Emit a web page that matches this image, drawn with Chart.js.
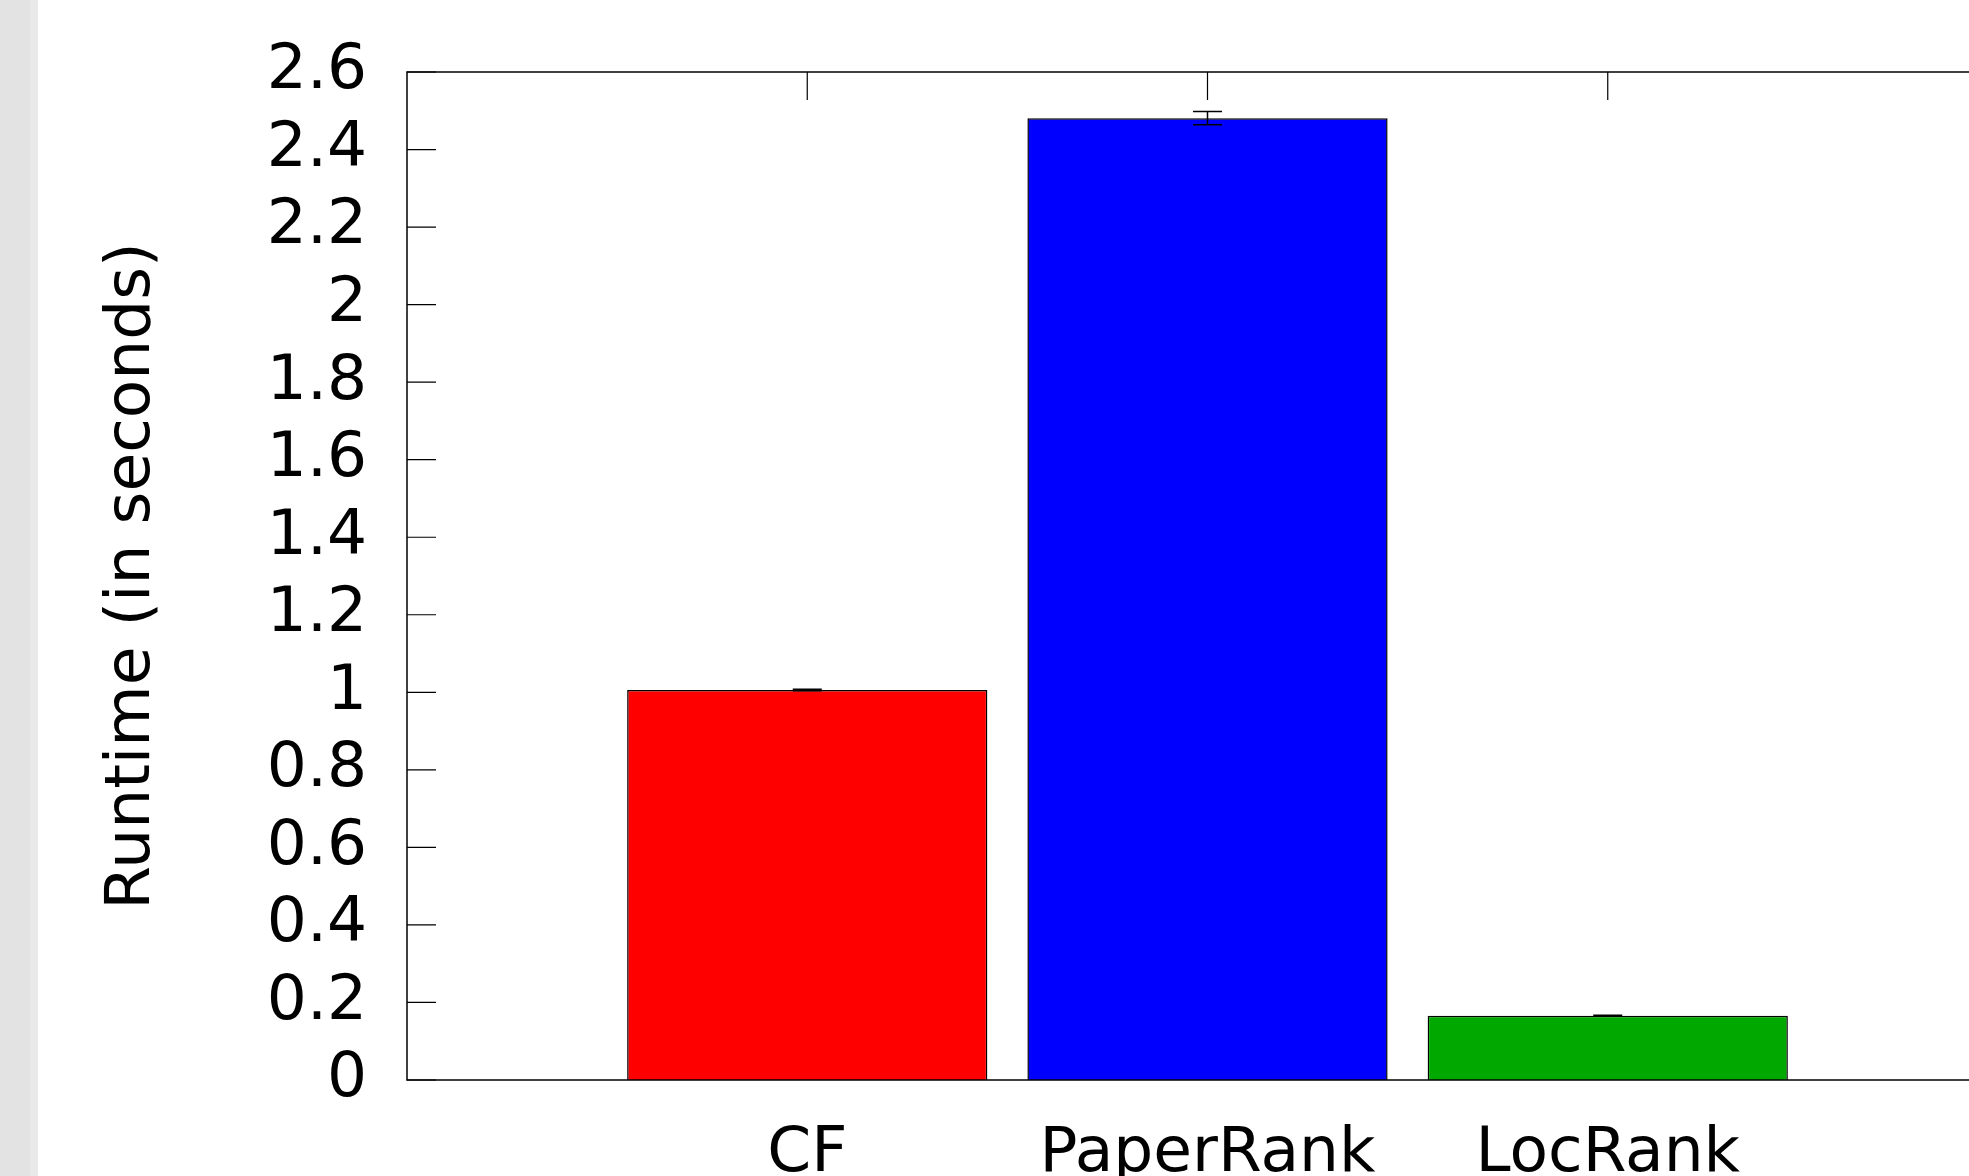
<!DOCTYPE html>
<html>
<head>
<meta charset="utf-8">
<script src="https://cdn.jsdelivr.net/npm/chart.js@4"></script>
<style>
  html, body { margin: 0; padding: 0; background: #fff; overflow: hidden; }
  body { width: 1969px; height: 1176px; position: relative; }
  #band { position: absolute; left: 0; top: 0; width: 30px; height: 1176px; background: #e3e3e3; border-right: 8px solid #e9e9e9; }
  #wrap { position: absolute; left: 0; top: 0; width: 2060px; height: 1200px; }
</style>
</head>
<body>
<div id="band"></div>
<div id="wrap"><canvas id="runtimeChart"></canvas></div>
<script>
  const categories = ["CF", "PaperRank", "LocRank"];
  const runtimes = [1.006, 2.481, 0.166];
  const errors = [0.002, 0.017, 0.001];
  const barColors = ["#ff0000", "#0000ff", "#00a800"];
  const yTicks = [0, 0.2, 0.4, 0.6, 0.8, 1, 1.2, 1.4, 1.6, 1.8, 2, 2.2, 2.4, 2.6];

  // pad one empty slot on each side, like gnuplot's xrange [-1:3]
  const labels = ["", ...categories, ""];
  const values = [null, ...runtimes, null];
  const errs = [null, ...errors, null];
  const colors = ["#fff", ...barColors, "#fff"];

  const FONT = "'DejaVu Sans', sans-serif";

  const framePlugin = {
    id: "frame",
    afterDatasetsDraw(chart) {
      const { ctx, chartArea: a, scales } = chart;
      const x = scales.x, y = scales.y;
      ctx.save();
      ctx.strokeStyle = "#000";
      ctx.lineWidth = 1.5;
      // error bars
      const meta = chart.getDatasetMeta(0);
      errs.forEach((e, i) => {
        if (e == null) return;
        const px = meta.data[i].x;
        const top = y.getPixelForValue(values[i] + e);
        const bot = y.getPixelForValue(values[i] - e);
        ctx.beginPath();
        ctx.moveTo(px, top); ctx.lineTo(px, bot);
        ctx.moveTo(px - 14.5, top); ctx.lineTo(px + 14.5, top);
        ctx.moveTo(px - 14.5, bot); ctx.lineTo(px + 14.5, bot);
        ctx.stroke();
      });
      // frame
      ctx.strokeRect(a.left, a.top, a.right - a.left, a.bottom - a.top);
      // inward ticks
      ctx.lineWidth = 1.2;
      ctx.beginPath();
      yTicks.forEach((v) => {
        const py = y.getPixelForValue(v);
        ctx.moveTo(a.left, py); ctx.lineTo(a.left + 29, py);
        ctx.moveTo(a.right, py); ctx.lineTo(a.right - 29, py);
      });
      categories.forEach((c, i) => {
        const px = x.getPixelForValue(i + 1);
        ctx.moveTo(px, a.top); ctx.lineTo(px, a.top + 28);
      });
      ctx.stroke();
      ctx.restore();
    },
  };

  new Chart(document.getElementById("runtimeChart"), {
    type: "bar",
    data: {
      labels,
      datasets: [
        {
          data: values,
          backgroundColor: colors,
          borderColor: "#000",
          borderWidth: 1.5,
          barPercentage: 0.9,
          categoryPercentage: 1,
        },
      ],
    },
    options: {
      responsive: true,
      maintainAspectRatio: false,
      animation: false,
      layout: { padding: { top: 72, right: 52, left: 0, bottom: 0 } },
      plugins: { legend: { display: false }, tooltip: { enabled: false } },
      scales: {
        x: {
          type: "category",
          offset: false,
          grid: { display: false, drawTicks: false },
          border: { display: false },
          ticks: {
            autoSkip: false,
            maxRotation: 0,
            padding: 37,
            color: "#000",
            font: { family: FONT, size: 63 },
          },
          afterFit(s) { s.height = 120; s.paddingLeft = 0; s.paddingRight = 0; },
        },
        y: {
          min: 0,
          max: 2.6,
          afterBuildTicks(s) { s.ticks = yTicks.map((v) => ({ value: v })); },
          grid: { display: false, drawTicks: false },
          border: { display: false },
          ticks: {
            autoSkip: false,
            padding: 40,
            color: "#000",
            font: { family: FONT, size: 63 },
            callback: (v) => String(Math.round(v * 10) / 10),
          },
          title: {
            display: true,
            text: "Runtime (in seconds)",
            color: "#000",
            font: { family: FONT, size: 63 },
            padding: { top: 95, bottom: 0 },
          },
          afterFit(s) { s.width = 407; s.paddingTop = 0; s.paddingBottom = 0; },
        },
      },
    },
    plugins: [framePlugin],
  });
</script>
</body>
</html>
